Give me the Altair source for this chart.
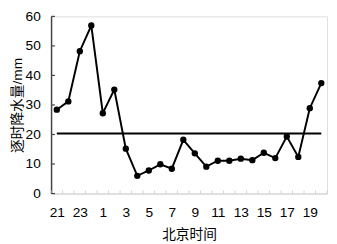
import altair as alt
import pandas as pd

hours = [21, 22, 23, 0, 1, 2, 3, 4, 5, 6, 7, 8, 9, 10, 11, 12, 13, 14, 15, 16, 17, 18, 19, 20]
rain = [28.4, 31.2, 48.2, 56.9, 27.2, 35.2, 15.2, 6.0, 7.8, 9.9, 8.4, 18.2,
        13.6, 9.1, 11.1, 11.1, 11.8, 11.3, 13.8, 12.0, 19.3, 12.4, 28.9, 37.4]
threshold = 20.3
y_ticks = [0, 10, 20, 30, 40, 50, 60]

idx = list(range(len(hours)))
df = pd.DataFrame({"i": idx, "hour": hours, "rain": rain})
label_idx = idx[::2]
label_js = "[" + ",".join(f"'{h}'" for h in hours) + "]"

W, H = 282, 181
FONT = "Liberation Sans, Noto Sans CJK SC"
X_AX = "#d0d0d0"
Y_AX = "#444444"

xscale = alt.Scale(domain=[-0.5, len(hours) - 0.5], nice=False, zero=False)
yscale = alt.Scale(domain=[0, 60], nice=False)

xaxis = alt.Axis(values=label_idx, labelExpr=f"{label_js}[datum.value]",
                 title="北京时间", ticks=False, grid=False, domainColor=X_AX,
                 domainWidth=1, labelFont=FONT, labelFontSize=14, labelColor="black",
                 labelPadding=12, titleFont=FONT, titleFontSize=14,
                 titleFontWeight="normal", titleColor="black", titlePadding=9,
                 labelFlush=False, labelOverlap=False)
yaxis = alt.Axis(values=y_ticks, title="逐时降水量/mm", ticks=False, grid=False,
                 domainColor=Y_AX, domainWidth=1.5, labelFont=FONT, labelFontSize=14,
                 labelColor="black", labelPadding=11, titleFont=FONT,
                 titleFontSize=14, titleFontWeight="normal", titleColor="black",
                 titlePadding=1, labelFlush=False)


def X(field):
    return alt.X(field, scale=xscale, axis=xaxis)


def Y(field):
    return alt.Y(field, scale=yscale, axis=yaxis)


base = alt.Chart(df)
line = base.mark_line(color="black", strokeWidth=2).encode(x=X("i:Q"), y=Y("rain:Q"))
points = base.mark_circle(color="black", size=42, opacity=1).encode(x=X("i:Q"), y=Y("rain:Q"))

thr = alt.Chart(pd.DataFrame({"x1": [idx[0]], "x2": [idx[-1]], "y": [threshold]})).mark_rule(
    color="black", strokeWidth=2).encode(x=X("x1:Q"), x2="x2:Q", y=Y("y:Q"))

ytick_marks = alt.Chart(pd.DataFrame({"v": y_ticks})).mark_rule(color=Y_AX, strokeWidth=1.2).encode(
    y=Y("v:Q"), x=alt.value(0), x2=alt.value(4))

bounds = [i - 0.5 for i in range(len(hours) + 1)]
xtick_marks = alt.Chart(pd.DataFrame({"b": bounds})).mark_rule(color=X_AX, strokeWidth=1).encode(
    x=X("b:Q"), y=alt.value(H - 3), y2=alt.value(H))

chart = alt.layer(xtick_marks, ytick_marks, thr, line, points).properties(
    width=W, height=H,
    autosize=alt.AutoSizeParams(type="none"),
    padding={"left": 44, "top": 6, "right": 2, "bottom": 48},
).configure_view(stroke=None).configure(background="white")

chart.save("out.html", embed_options={"renderer": "svg", "actions": False})
